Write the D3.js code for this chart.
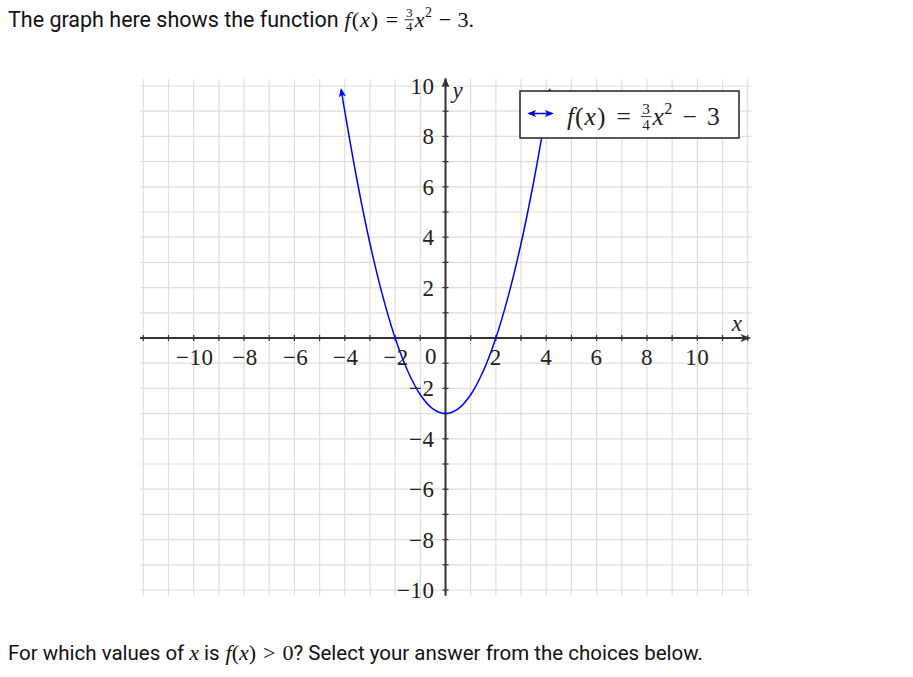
<!DOCTYPE html>
<html>
<head>
<meta charset="utf-8">
<script src="https://cdn.jsdelivr.net/npm/d3@7"></script>
<style>
  html, body { margin: 0; padding: 0; background: #fff; }
  svg { display: block; }
</style>
</head>
<body>
<svg id="chart" width="913" height="677"></svg>
<script>
// ---- data ----
const gridX = d3.range(-12, 13);           // vertical grid lines
const gridY = d3.range(-10, 11);           // horizontal grid lines
const xTickLabels = [-10, -8, -6, -4, -2, 2, 4, 6, 8, 10];
const yTickLabels = [-10, -8, -6, -4, -2, 2, 4, 6, 8, 10];
const curveX = [-4.14, -4, -3.5, -3, -2.5, -2, -1.5, -1, -0.5, 0, 0.5, 1, 1.5, 2, 2.5, 3, 3.5, 4, 4.14];
const curveY = [9.85, 9, 6.19, 3.75, 1.69, 0, -1.31, -2.25, -2.81, -3, -2.81, -2.25, -1.31, 0, 1.69, 3.75, 6.19, 9, 9.85];

// ---- layout ----
const svg = d3.select("#chart");
const x = d3.scaleLinear().domain([-12, 12]).range([143.3, 747.7]);
const y = d3.scaleLinear().domain([-10, 10]).range([590, 86]);
const xMin = -12.13, xMax = 12.15, yMin = -10.23, yMax = 10.28;
const mathFont = "'Liberation Serif', 'DejaVu Serif', serif";
const textFont = "Roboto, 'Noto Sans', sans-serif";

// ---- grid ----
const grid = svg.append("g").attr("stroke", "#dedede").attr("stroke-width", 1.2);
grid.selectAll("line.v").data(gridX).join("line")
  .attr("x1", d => x(d)).attr("x2", d => x(d))
  .attr("y1", y(yMax)).attr("y2", y(yMin));
grid.selectAll("line.h").data(gridY).join("line")
  .attr("y1", d => y(d)).attr("y2", d => y(d))
  .attr("x1", x(xMin)).attr("x2", x(xMax));

// ---- markers ----
const axisColor = "#333";
svg.append("defs").html(`
  <marker id="axArrow" viewBox="0 0 10 10" refX="9" refY="5" markerWidth="5" markerHeight="5" orient="auto">
    <path d="M0,1 L10,5 L0,9 L2.5,5 Z" fill="${axisColor}"/>
  </marker>
  <marker id="blueArrow" viewBox="0 0 10 10" refX="8" refY="5" markerWidth="6" markerHeight="6" orient="auto">
    <path d="M0,1 L10,5 L0,9 L2.5,5 Z" fill="blue"/>
  </marker>
  <marker id="blueArrowStart" viewBox="0 0 10 10" refX="8" refY="5" markerWidth="6" markerHeight="6" orient="auto-start-reverse">
    <path d="M0,1 L10,5 L0,9 L2.5,5 Z" fill="blue"/>
  </marker>`);

// ---- axes ----
const axes = svg.append("g").attr("stroke", axisColor);
axes.append("line").attr("x1", x(xMin)).attr("x2", x(xMax) - 2)
  .attr("y1", y(0)).attr("y2", y(0)).attr("stroke-width", 2)
  .attr("marker-end", "url(#axArrow)");
axes.append("line").attr("x1", x(0)).attr("x2", x(0))
  .attr("y1", y(yMin)).attr("y2", y(10.3)).attr("stroke-width", 2)
  .attr("marker-end", "url(#axArrow)");
axes.selectAll("line.xt").data(gridX).join("line")
  .attr("x1", d => x(d)).attr("x2", d => x(d))
  .attr("y1", y(0) - 3).attr("y2", y(0) + 3).attr("stroke-width", 1.2);
axes.selectAll("line.yt").data(gridY).join("line")
  .attr("y1", d => y(d)).attr("y2", d => y(d))
  .attr("x1", x(0) - 3).attr("x2", x(0) + 3).attr("stroke-width", 1.2);

// ---- curve ----
const line = d3.line().x(d => x(d[0])).y(d => y(d[1])).curve(d3.curveCatmullRom);
svg.append("path").datum(d3.zip(curveX, curveY))
  .attr("d", line).attr("fill", "none").attr("stroke", "blue").attr("stroke-width", 1.5)
  .attr("marker-start", "url(#blueArrowStart)").attr("marker-end", "url(#blueArrow)");

// ---- tick labels ----
const fmt = d => d < 0 ? "\u2212" + Math.abs(d) : String(d);
const labels = svg.append("g").attr("font-family", mathFont).attr("font-size", 23).attr("fill", "#222");
labels.selectAll("text.xl").data(xTickLabels).join("text")
  .attr("x", d => x(d) + (d < 0 ? 1 : 0)).attr("y", y(0) + 27)
  .attr("text-anchor", "middle").attr("letter-spacing", 0.5).text(fmt);
labels.selectAll("text.yl").data(yTickLabels).join("text")
  .attr("x", x(0) - 11).attr("y", d => y(d) + 8)
  .attr("text-anchor", "end").attr("letter-spacing", 0.5).text(fmt);
labels.append("text").attr("x", x(0) - 9).attr("y", y(0) + 26)
  .attr("text-anchor", "end").text("0");
labels.append("text").attr("x", x(0) + 7).attr("y", y(10) + 12)
  .attr("font-style", "italic").text("y");
labels.append("text").attr("x", x(12) - 16).attr("y", y(0) - 7)
  .attr("font-style", "italic").text("x");

// helper to place a math piece
function piece(g, txt, px, py, size, opts = {}) {
  const t = g.append("text").attr("x", px).attr("y", py)
    .attr("font-family", mathFont).attr("font-size", size).attr("fill", opts.fill || "#222")
    .attr("text-anchor", opts.anchor || "start").text(txt);
  if (opts.italic) t.attr("font-style", "italic");
  return t;
}
const wOf = t => t.node().getComputedTextLength();

// sequential math layout: f(x) = 3/4 x^2 − 3[suffix]
function mathExpr(g, startX, by, fs, c, suffix, gap) {
  let cx = startX;
  const t = g.append("text").attr("x", cx).attr("y", by).attr("font-family", mathFont)
    .attr("font-size", fs).attr("fill", c).attr("letter-spacing", 1);
  t.append("tspan").attr("font-style", "italic").text("f");
  t.append("tspan").text("(");
  t.append("tspan").attr("font-style", "italic").text("x");
  t.append("tspan").text(")");
  cx += wOf(t) + gap;
  const eq = piece(g, "=", cx, by, fs, { fill: c });
  cx += wOf(eq) + gap;
  const fw = fs * 0.42, fsz = fs * 0.6;
  piece(g, "3", cx + fw / 2, by - fs * 0.45, fsz, { anchor: "middle", fill: c });
  g.append("line").attr("x1", cx).attr("x2", cx + fw)
    .attr("y1", by - fs * 0.33).attr("y2", by - fs * 0.33)
    .attr("stroke", c).attr("stroke-width", 0.9);
  piece(g, "4", cx + fw / 2, by + fs * 0.2, fsz, { anchor: "middle", fill: c });
  cx += fw + 1;
  const xv = piece(g, "x", cx, by, fs, { italic: true, fill: c });
  cx += wOf(xv) + 0.5;
  const sq = piece(g, "2", cx, by - fs * 0.45, fs * 0.64, { fill: c });
  cx += wOf(sq) + gap;
  const mn = piece(g, "\u2212", cx, by, fs, { fill: c });
  cx += wOf(mn) + gap;
  piece(g, "3" + suffix, cx, by, fs, { fill: c });
}

// ---- legend ----
const lg = svg.append("g");
lg.append("rect").attr("x", 520).attr("y", 91).attr("width", 219).attr("height", 47)
  .attr("fill", "#fff").attr("stroke", "#222").attr("stroke-width", 1.5);
lg.append("line").attr("x1", 529).attr("x2", 552).attr("y1", 113.5).attr("y2", 113.5)
  .attr("stroke", "blue").attr("stroke-width", 1.5)
  .attr("marker-start", "url(#blueArrowStart)").attr("marker-end", "url(#blueArrow)");
mathExpr(lg, 567, 125, 25.5, "#222", "", 10);

// ---- title ----
const title = svg.append("text").attr("x", 8).attr("y", 27).attr("font-family", textFont)
  .attr("font-size", 21.5).attr("fill", "#111").text("The graph here shows the function");
mathExpr(svg.append("g"), 8 + wOf(title) + 6, 27, 22, "#111", ".", 6.5);

// ---- question ----
{
  const by = 660, c = "#111";
  const g = svg.append("g");
  const t1 = g.append("text").attr("x", 8).attr("y", by).attr("font-family", textFont)
    .attr("font-size", 20.5).attr("fill", c).text("For which values of");
  let cx = 8 + wOf(t1) + 5;
  const xv = piece(g, "x", cx, by, 22, { italic: true, fill: c });
  cx += wOf(xv) + 5;
  const t2 = g.append("text").attr("x", cx).attr("y", by).attr("font-family", textFont)
    .attr("font-size", 20.5).attr("fill", c).text("is");
  cx += wOf(t2) + 6;
  const t3 = g.append("text").attr("x", cx).attr("y", by).attr("font-family", mathFont)
    .attr("font-size", 22).attr("fill", c);
  t3.append("tspan").attr("font-style", "italic").text("f");
  t3.append("tspan").text("(");
  t3.append("tspan").attr("font-style", "italic").text("x");
  t3.append("tspan").text(")");
  cx += wOf(t3) + 7;
  const gt = piece(g, ">", cx, by, 22, { fill: c });
  cx += wOf(gt) + 7;
  const z = piece(g, "0", cx, by, 22, { fill: c });
  cx += wOf(z);
  g.append("text").attr("x", cx).attr("y", by).attr("font-family", textFont)
    .attr("font-size", 20.5).attr("fill", c).text("? Select your answer from the choices below.");
}
</script>
</body>
</html>
